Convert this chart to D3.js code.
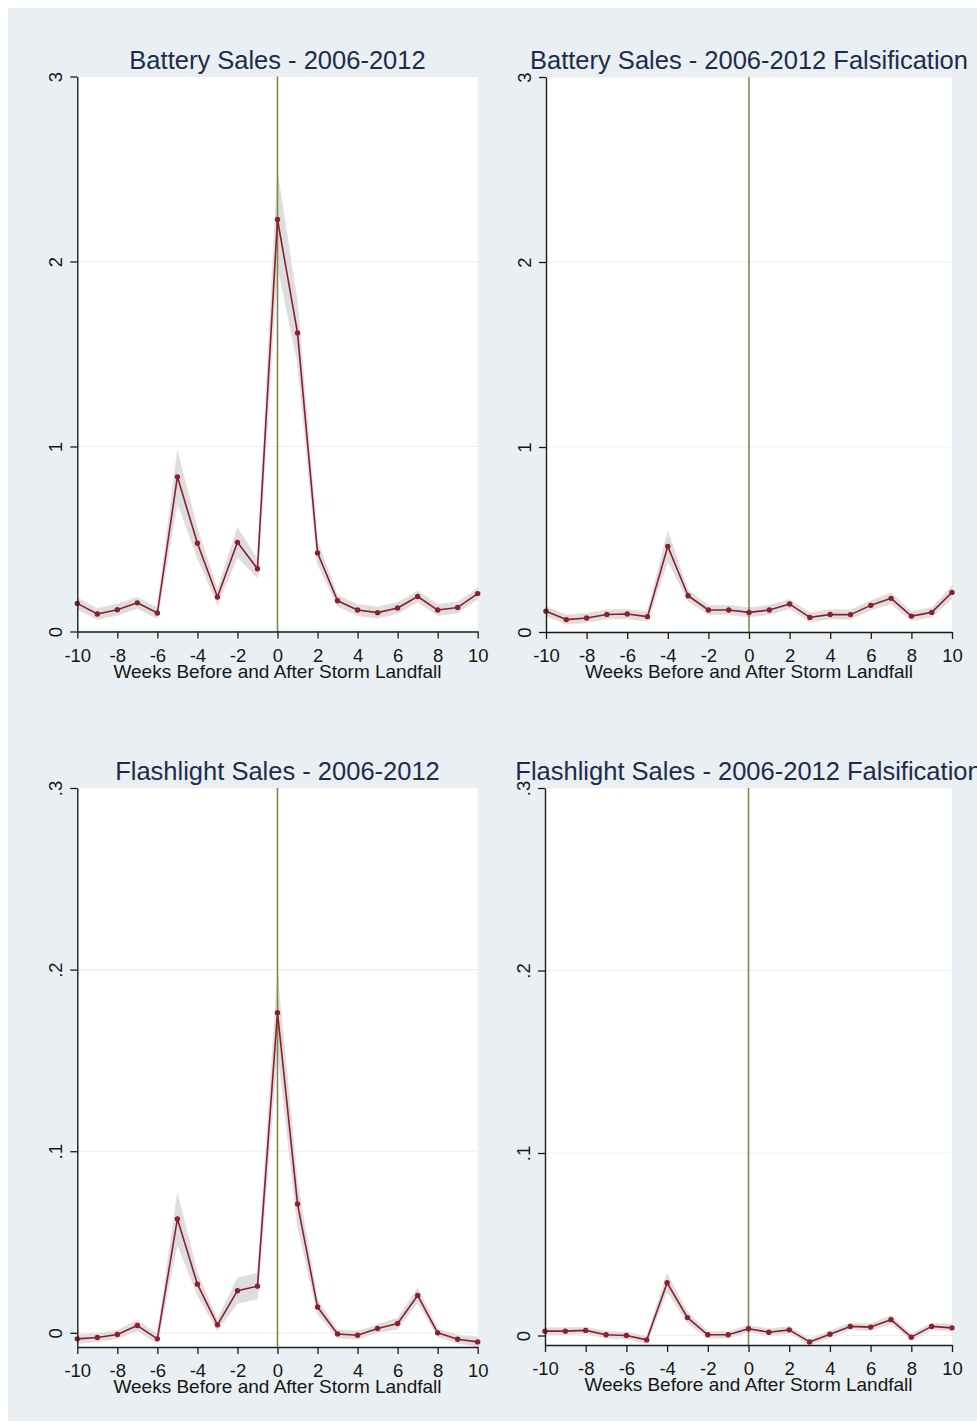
<!DOCTYPE html>
<html>
<head>
<meta charset="utf-8">
<script src="https://cdn.jsdelivr.net/npm/d3@7"></script>
<style>
  html, body { margin: 0; padding: 0; background: #ffffff; }
  svg { display: block; font-family: "Liberation Sans", Arial, sans-serif; }
</style>
</head>
<body>
<script>
// Weeks relative to storm landfall
const weeks = [-10, -9, -8, -7, -6, -5, -4, -3, -2, -1, 0, 1, 2, 3, 4, 5, 6, 7, 8, 9, 10];

// Battery sales: point estimates and half-width of the confidence band
const batterySales = [0.152, 0.095, 0.118, 0.155, 0.100, 0.836, 0.477, 0.186, 0.482, 0.339,
                      2.227, 1.614, 0.425, 0.166, 0.116, 0.102, 0.127, 0.189, 0.116, 0.130, 0.205];
const batteryHalfCI = [0.030, 0.030, 0.030, 0.030, 0.030, 0.140, 0.080, 0.040, 0.080, 0.050,
                       0.250, 0.160, 0.060, 0.030, 0.030, 0.030, 0.030, 0.030, 0.030, 0.030, 0.030];

// Battery sales, falsification test
const batteryFalsification = [0.112, 0.067, 0.076, 0.095, 0.097, 0.083, 0.463, 0.196, 0.119, 0.119,
                              0.106, 0.119, 0.151, 0.079, 0.095, 0.094, 0.144, 0.182, 0.086, 0.106, 0.214];
const batteryFalsHalfCI = [0.025, 0.025, 0.025, 0.025, 0.025, 0.025, 0.080, 0.030, 0.025, 0.025,
                           0.025, 0.025, 0.025, 0.025, 0.025, 0.025, 0.025, 0.030, 0.025, 0.025, 0.035];

// Flashlight sales
const flashlightSales = [-0.0033, -0.0026, -0.0009, 0.0040, -0.0033, 0.0627, 0.0268, 0.0044, 0.0232, 0.0257,
                         0.1763, 0.0710, 0.0142, -0.0006, -0.0013, 0.0024, 0.0051, 0.0206, 0.0000, -0.0035, -0.0050];
const flashlightHalfCI = [0.0025, 0.0022, 0.0022, 0.0030, 0.0025, 0.0140, 0.0060, 0.0030, 0.0070, 0.0070,
                          0.0200, 0.0120, 0.0040, 0.0022, 0.0022, 0.0022, 0.0030, 0.0040, 0.0022, 0.0022, 0.0028];

// Flashlight sales, falsification test
const flashlightFalsification = [0.0024, 0.0024, 0.0028, 0.0004, 0.0000, -0.0024, 0.0289, 0.0098, 0.0004, 0.0004,
                                 0.0037, 0.0018, 0.0031, -0.0035, 0.0007, 0.0050, 0.0046, 0.0087, -0.0009, 0.0050, 0.0042];
const flashlightFalsHalfCI = [0.0018, 0.0018, 0.0018, 0.0018, 0.0018, 0.0018, 0.0050, 0.0030, 0.0018, 0.0018,
                              0.0018, 0.0018, 0.0018, 0.0017, 0.0018, 0.0018, 0.0018, 0.0022, 0.0018, 0.0018, 0.0020];

// Axis ticks and labels
const xTicks = [-10, -8, -6, -4, -2, 0, 2, 4, 6, 8, 10];
const batteryYTicks = [0, 1, 2, 3];
const batteryYLabels = ["0", "1", "2", "3"];
const flashlightYTicks = [0, 0.1, 0.2, 0.3];
const flashlightYLabels = ["0", ".1", ".2", ".3"];

const panelTitles = [
  "Battery Sales - 2006-2012",
  "Battery Sales - 2006-2012 Falsification",
  "Flashlight Sales - 2006-2012",
  "Flashlight Sales - 2006-2012 Falsification"
];
const xAxisTitle = "Weeks Before and After Storm Landfall";

// ---- drawing ----
const W = 977, H = 1426;
const svg = d3.select("body").append("svg").attr("width", W).attr("height", H);

svg.append("rect").attr("width", W).attr("height", H).attr("fill", "#ffffff");
svg.append("rect").attr("x", 8).attr("y", 8).attr("width", W - 8).attr("height", H - 13)
   .attr("fill", "#e9eff2");

const panels = [
  { title: panelTitles[0], values: batterySales, half: batteryHalfCI,
    ticks: batteryYTicks, labels: batteryYLabels, yMax: 3,
    box: { l: 77.3, r: 477.7, t: 76.5, b: 631.5 } },
  { title: panelTitles[1], values: batteryFalsification, half: batteryFalsHalfCI,
    ticks: batteryYTicks, labels: batteryYLabels, yMax: 3,
    box: { l: 546, r: 952, t: 77, b: 632 } },
  { title: panelTitles[2], values: flashlightSales, half: flashlightHalfCI,
    ticks: flashlightYTicks, labels: flashlightYLabels, yMax: 0.3,
    box: { l: 77.3, r: 477.7, t: 788, b: 1347 } },
  { title: panelTitles[3], values: flashlightFalsification, half: flashlightFalsHalfCI,
    ticks: flashlightYTicks, labels: flashlightYLabels, yMax: 0.3,
    box: { l: 545, r: 952, t: 788, b: 1345 } }
];

const lineColor = "#8a1f30";
const bandColor = "#dddddd";
const axisColor = "#1c1c1c";

panels.forEach(p => {
  const { l, r, t, b } = p.box;
  const rows = weeks.map((w, i) => ({
    w, v: p.values[i], lo: p.values[i] - p.half[i], hi: p.values[i] + p.half[i]
  }));
  const yMin = Math.min(0, d3.min(rows, d => d.lo));

  const x = d3.scaleLinear().domain([-10, 10]).range([l, r]);
  const y = d3.scaleLinear().domain([yMin, p.yMax]).range([b, t]);

  const g = svg.append("g");

  // plot region
  g.append("rect").attr("x", l).attr("y", t).attr("width", r - l).attr("height", b - t)
   .attr("fill", "#ffffff");

  // horizontal grid
  g.selectAll("line.grid").data(p.ticks).join("line")
   .attr("class", "grid")
   .attr("x1", l).attr("x2", r)
   .attr("y1", d => y(d)).attr("y2", d => y(d))
   .attr("stroke", "#eceff1").attr("stroke-width", 1.2);

  // confidence band
  g.append("path").datum(rows)
   .attr("d", d3.area().x(d => x(d.w)).y0(d => y(d.lo)).y1(d => y(d.hi)))
   .attr("fill", bandColor).attr("stroke", "#eedadd").attr("stroke-width", 0.8);

  // landfall reference line
  g.append("line")
   .attr("x1", x(0)).attr("x2", x(0)).attr("y1", t).attr("y2", b)
   .attr("stroke", "#7b8a4c").attr("stroke-width", 1.6);

  // estimates
  g.append("path").datum(rows)
   .attr("d", d3.line().x(d => x(d.w)).y(d => y(d.v)))
   .attr("fill", "none").attr("stroke", lineColor).attr("stroke-width", 1.6)
   .attr("stroke-linejoin", "round");
  g.selectAll("circle").data(rows).join("circle")
   .attr("cx", d => x(d.w)).attr("cy", d => y(d.v)).attr("r", 2.7)
   .attr("fill", lineColor);

  // y axis
  const yAxis = g.append("g").attr("transform", `translate(${l},0)`)
   .call(d3.axisLeft(y).tickValues(p.ticks).tickFormat((d, i) => p.labels[i])
         .tickSize(7).tickSizeOuter(0));
  yAxis.select(".domain").attr("stroke", axisColor).attr("stroke-width", 1.4);
  yAxis.selectAll(".tick line").attr("stroke", axisColor).attr("stroke-width", 1.3);
  yAxis.selectAll(".tick text")
   .attr("x", null).attr("dy", null)
   .attr("transform", "translate(-15,0) rotate(-90)")
   .attr("text-anchor", "middle")
   .attr("font-size", 18.5).attr("fill", "#161616")
   .attr("font-family", "Liberation Sans, Arial, sans-serif");

  // x axis
  const xAxis = g.append("g").attr("transform", `translate(0,${b})`)
   .call(d3.axisBottom(x).tickValues(xTicks).tickFormat(d3.format("d"))
         .tickSize(7).tickSizeOuter(0));
  xAxis.select(".domain").attr("stroke", axisColor).attr("stroke-width", 1.4);
  xAxis.selectAll(".tick line").attr("stroke", axisColor).attr("stroke-width", 1.3);
  xAxis.selectAll(".tick text")
   .attr("y", 30).attr("dy", null)
   .attr("font-size", 18.5).attr("fill", "#161616")
   .attr("font-family", "Liberation Sans, Arial, sans-serif")
   .text(d => d < 0 ? "-" + Math.abs(d) : String(d));

  // axis title
  g.append("text")
   .attr("x", (l + r) / 2).attr("y", b + 46)
   .attr("text-anchor", "middle").attr("font-size", 19).attr("fill", "#161616")
   .text(xAxisTitle);

  // panel title
  g.append("text")
   .attr("x", (l + r) / 2).attr("y", t - 8)
   .attr("text-anchor", "middle").attr("font-size", 25.5).attr("fill", "#1e2c4c")
   .text(p.title);
});
</script>
</body>
</html>
